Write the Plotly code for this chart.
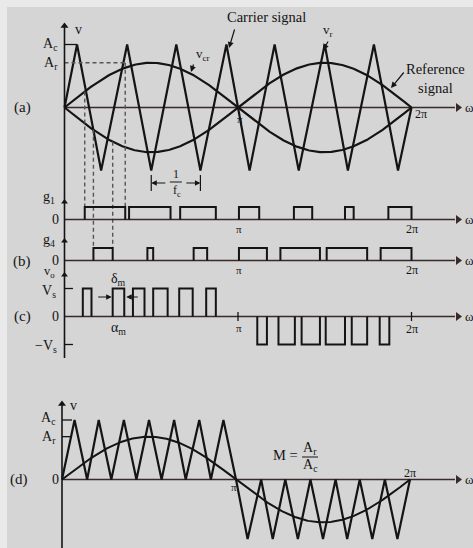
import numpy as np
import plotly.graph_objects as go

W, H = 473, 548

# ---------------- data (angles in degrees of wt) ----------------
A_c = 1.0          # carrier amplitude (normalised)
A_r = 0.71         # reference amplitude, panel (a)
carrier_a_deg = [0, 13, 38, 65, 90, 116, 141, 168, 192, 218, 243, 270, 294, 321, 346, 360]
carrier_a_val = [0, 1, -1, 1, -1, 1, -1, 1, -1, 1, -1, 1, -1, 1, -1, 0]

g1_on = [21, 67, 120, 181, 238, 291, 336]
g1_off = [63, 110, 157, 202, 257, 300, 360]
g4_on = [30, 86, 134, 181, 224, 272, 328]
g4_off = [50, 92, 148, 210, 265, 314, 360]

vo_pos_on = [19, 50, 71, 92, 119, 147]
vo_pos_off = [28, 62, 83, 107, 133, 157]
vo_neg_on = [200, 222, 246, 271, 298, 327]
vo_neg_off = [210, 239, 265, 291, 314, 337]

A_r_d = 0.72       # reference amplitude, panel (d)
carrier_d_deg = [0, 13, 26, 38, 51, 64, 77, 90, 103, 116, 128, 142, 154, 167, 180,
                 192, 206, 218, 231, 244, 257, 270, 283, 295, 308, 321, 334, 347, 360]
carrier_d_val = [0, 1, 0, 1, 0, 1, 0, 1, 0, 1, 0, 1, 0, 1, 0,
                 -1, 0, -1, 0, -1, 0, -1, 0, -1, 0, -1, 0, -1, 0]

theta = np.linspace(0, 360, 361)
ref_a = A_r * np.sin(np.radians(theta))
ref_d = A_r_d * np.sin(np.radians(theta))

# ---------------- geometry ----------------
FONT = "Liberation Serif"
INK = "#141414"
AXC = "#3a2a2a"
X0 = {"a": 64.5, "d": 62.0}
SPAN = {"a": 347.0, "d": 348.0}
ZERO = {"a": 107.5, "g1": 219.5, "g4": 260.5, "c": 316.5, "d": 479.5}
UNIT = {"a": 63.0, "g1": 12.5, "g4": 12.5, "c": 28.0, "d": 59.5}
YAX = {"a": "y", "g1": "y2", "g4": "y3", "c": "y4", "d": "y5"}


def xkey(panel):
    return "d" if panel == "d" else "a"


def deg_of_px(xpx, panel="a"):
    k = xkey(panel)
    return (xpx - X0[k]) * 360.0 / SPAN[k]


def px_of_deg(d, panel="a"):
    k = xkey(panel)
    return X0[k] + d * SPAN[k] / 360.0


def val_of_px(panel, ypx):
    return (ZERO[panel] - ypx) / UNIT[panel]


def px_of_val(panel, v):
    return ZERO[panel] - v * UNIT[panel]


def xrange_(k):
    return [-X0[k] * 360.0 / SPAN[k], (W - X0[k]) * 360.0 / SPAN[k]]


def yrange_(p):
    return [(ZERO[p] - H) / UNIT[p], ZERO[p] / UNIT[p]]


fig = go.Figure()


def line(panel, xs, ys, width=2.2, color=INK, dash=None):
    fig.add_trace(go.Scatter(
        x=list(xs), y=list(ys), mode="lines",
        line=dict(width=width, color=color, dash=dash),
        xaxis="x2" if panel == "d" else "x", yaxis=YAX[panel],
        hoverinfo="skip", showlegend=False))


def marker(panel, xs, ys, symbol, size=8, color=INK):
    fig.add_trace(go.Scatter(
        x=list(xs), y=list(ys), mode="markers",
        marker=dict(symbol=symbol, size=size, color=color, line=dict(width=0)),
        xaxis="x2" if panel == "d" else "x", yaxis=YAX[panel],
        hoverinfo="skip", showlegend=False))


def pulses(on, off, level):
    xs, ys = [], []
    for a, b in zip(on, off):
        xs += [a, a, b, b, None]
        ys += [0, level, level, 0, None]
    return xs, ys


def txt(s, x, y, size=14, xanchor="center", yanchor="middle"):
    fig.add_annotation(text=s, x=x / W, y=1 - y / H, xref="paper", yref="paper",
                       showarrow=False, xanchor=xanchor, yanchor=yanchor,
                       font=dict(family=FONT, size=size, color=INK))


def arrow(xh, yh, xt, yt, width=1.2, head=2):
    fig.add_annotation(text="", x=xh / W, y=1 - yh / H, xref="paper", yref="paper",
                       ax=xt - xh, ay=yt - yh, showarrow=True, arrowhead=head,
                       arrowsize=1, arrowwidth=width, arrowcolor=INK, standoff=0)


def vline_px(x, y0, y1, width=1.5, color=INK, dash=None):
    fig.add_shape(type="line", xref="paper", yref="paper",
                  x0=x / W, x1=x / W, y0=1 - y0 / H, y1=1 - y1 / H,
                  line=dict(width=width, color=color, dash=dash))


def hline_px(x0, x1, y, width=1.5, color=INK, dash=None):
    fig.add_shape(type="line", xref="paper", yref="paper",
                  x0=x0 / W, x1=x1 / W, y0=1 - y / H, y1=1 - y / H,
                  line=dict(width=width, color=color, dash=dash))


# background with light border (top/left)
fig.add_shape(type="rect", xref="paper", yref="paper", x0=7 / W, x1=1, y0=0, y1=1 - 7 / H,
              fillcolor="#d5d5d5", line=dict(width=0), layer="below")

X_END_A = deg_of_px(455, "a")
X_TIP_A = deg_of_px(458, "a")
X_END_D = deg_of_px(455, "d")
X_TIP_D = deg_of_px(458, "d")

# ---------------- vertical axes ----------------
vline_px(X0["a"], 27, 358, width=1.6)
vline_px(X0["d"], 405, 548, width=1.6)
marker("a", [0], [val_of_px("a", 26)], "triangle-up", 7)
marker("g1", [0], [val_of_px("g1", 202)], "triangle-up", 6)
marker("g4", [0], [val_of_px("g4", 241)], "triangle-up", 6)
marker("c", [0], [val_of_px("c", 275)], "triangle-up", 6)
marker("d", [0], [val_of_px("d", 404)], "triangle-up", 7)

# ---------------- panel (a) ----------------
line("a", [0, X_END_A], [0, 0], width=1.6, color=AXC)
marker("a", [X_TIP_A], [0], "triangle-right", 8, AXC)
line("a", theta, ref_a, width=2.2)
line("a", theta, -ref_a, width=2.2)
line("a", carrier_a_deg, carrier_a_val, width=2.2)
# Ac and Ar level marks
line("a", [0, carrier_a_deg[1]], [A_c, A_c], width=1.3)
line("a", [0, g1_off[0] + 2], [A_r, A_r], width=1.3, color="#555555", dash="4px,3px")

# dashed projection lines to the gate signals
proj = [
    (g1_on[0], A_r * np.sin(np.radians(g1_on[0])), "g1"),
    (g4_on[0], -A_r * np.sin(np.radians(g4_on[0])), "g4"),
    (g4_off[0], -A_r * np.sin(np.radians(g4_off[0])), "g4"),
    (g1_off[0], A_r, "g1"),
]
for xd, v0, pan in proj:
    y_top = val_of_px("a", px_of_val(pan, 1.0))
    line("a", [xd, xd], [v0, y_top], width=1.4, color="#555555", dash="4px,3px")

# 1/fc dimension
fx0 = px_of_deg(carrier_a_deg[4])
fx1 = px_of_deg(carrier_a_deg[6])
fxm = (fx0 + fx1) / 2
arrow(fx0, 183, fxm - 9, 183, width=1.1)
arrow(fx1, 183, fxm + 9, 183, width=1.1)
vline_px(fx0, 175, 191, width=1.2)
vline_px(fx1, 175, 191, width=1.2)
txt("1", fxm, 174, 12)
hline_px(fxm - 6, fxm + 6, 182, width=1.0)
txt("f<sub>c</sub>", fxm + 1, 191, 12)

txt("v", 78, 29, 14)
txt("A<sub>c</sub>", 60, 45, 14, xanchor="right")
txt("A<sub>r</sub>", 60, 64, 14, xanchor="right")
txt("(a)", 22, 108, 15)
txt("π", px_of_deg(180) + 2, 119, 11)
txt("2π", px_of_deg(360) + 9, 114, 12)
txt("ω", 463, 108, 13, xanchor="left")
txt("Carrier signal", 266, 17, 14.5)
arrow(229, 48, 235, 28)
txt("v<sub>r</sub>", 328, 31, 13)
arrow(323, 50, 329, 40)
txt("v<sub>cr</sub>", 203, 54, 13)
arrow(191, 72, 194, 63)
txt("Reference<br>signal", 435, 78, 14.5)
arrow(391, 88, 405, 71)

# ---------------- panel (b) ----------------
for pan, on, off, lab, ylab in [("g1", g1_on, g1_off, "g<sub>1</sub>", 197),
                                 ("g4", g4_on, g4_off, "g<sub>4</sub>", 240)]:
    line(pan, [0, X_END_A], [0, 0], width=1.6, color=AXC)
    marker(pan, [X_TIP_A], [0], "triangle-right", 8, AXC)
    xs, ys = pulses(on, off, 1.0)
    line(pan, xs, ys, width=2.0)
    txt(lab, 49, ylab, 14)
    txt("0", 55, ZERO[pan], 14)
    txt("π", px_of_deg(180) + 1, ZERO[pan] + 9, 11)
    txt("2π", px_of_deg(360), ZERO[pan] + 9, 12)
    txt("ω", 463, ZERO[pan], 13, xanchor="left")
txt("(b)", 22, 261, 15)

# ---------------- panel (c) ----------------
line("c", [0, X_END_A], [0, 0], width=1.6, color=AXC)
marker("c", [X_TIP_A], [0], "triangle-right", 8, AXC)
xs, ys = pulses(vo_pos_on, vo_pos_off, 1.0)
line("c", xs, ys, width=2.0)
xs, ys = pulses(vo_neg_on, vo_neg_off, -1.0)
line("c", xs, ys, width=2.0)
tick_len = deg_of_px(73) - deg_of_px(X0["a"])
line("c", [0, tick_len], [1, 1], width=1.3)
line("c", [0, tick_len], [-1, -1], width=1.3)
for t in (180, 360):
    line("c", [t, t], [-0.16, 0.16], width=1.3)
# delta_m arrows
arrow(px_of_deg(vo_pos_on[1]) - 1, 297, px_of_deg(vo_pos_on[1]) - 16, 297, width=1.1)
arrow(px_of_deg(vo_pos_off[1]) + 2, 297, px_of_deg(vo_pos_off[1]) + 15, 297, width=1.1)
txt("v<sub>o</sub>", 49, 272, 12.5)
txt("V<sub>s</sub>", 49, 291, 14)
txt("0", 55, ZERO["c"], 14)
txt("−V<sub>s</sub>", 59, 346, 14, xanchor="right")
txt("(c)", 22, 316, 15)
txt("δ<sub>m</sub>", 118, 279, 14)
txt("α<sub>m</sub>", 118, 328, 14)
txt("π", px_of_deg(180) + 1, 328, 11)
txt("2π", px_of_deg(360), 329, 12)
txt("ω", 463, ZERO["c"], 13, xanchor="left")

# ---------------- panel (d) ----------------
line("d", [0, X_END_D], [0, 0], width=1.6, color=AXC)
marker("d", [X_TIP_D], [0], "triangle-right", 8, AXC)
line("d", theta, ref_d, width=2.0)
line("d", carrier_d_deg, carrier_d_val, width=2.2)
tick_d = deg_of_px(72, "d")
line("d", [0, tick_d], [A_c, A_c], width=1.3)
line("d", [0, tick_d], [A_r_d, A_r_d], width=1.3)
txt("v", 73, 405, 14)
txt("A<sub>c</sub>", 58, 418, 14, xanchor="right")
txt("A<sub>r</sub>", 58, 437, 14, xanchor="right")
txt("0", 55, ZERO["d"], 14)
txt("(d)", 19, 479, 15)
txt("π", px_of_deg(180, "d") - 2, 487, 11)
txt("2π", px_of_deg(360, "d"), 473, 12)
txt("ω", 463, ZERO["d"], 13, xanchor="left")
txt("M =", 285, 455, 14.5)
txt("A<sub>r</sub>", 310, 448, 14)
hline_px(302, 318, 457, width=1.0)
txt("A<sub>c</sub>", 310, 465, 14)

# ---------------- layout ----------------
common = dict(visible=False, fixedrange=True, showgrid=False, zeroline=False)
fig.update_layout(
    width=W, height=H, autosize=False,
    margin=dict(l=0, r=0, t=0, b=0, pad=0),
    paper_bgcolor="#e9e9e9", plot_bgcolor="rgba(0,0,0,0)",
    showlegend=False,
    xaxis=dict(range=xrange_("a"), domain=[0, 1], **common),
    xaxis2=dict(range=xrange_("d"), overlaying="x", **common),
    yaxis=dict(range=yrange_("a"), domain=[0, 1], **common),
    yaxis2=dict(range=yrange_("g1"), overlaying="y", **common),
    yaxis3=dict(range=yrange_("g4"), overlaying="y", **common),
    yaxis4=dict(range=yrange_("c"), overlaying="y", **common),
    yaxis5=dict(range=yrange_("d"), overlaying="y", **common),
)

fig.write_html("out.html", config={"displayModeBar": False},
               post_script="document.body.style.margin='0px';document.body.style.overflow='hidden';")
